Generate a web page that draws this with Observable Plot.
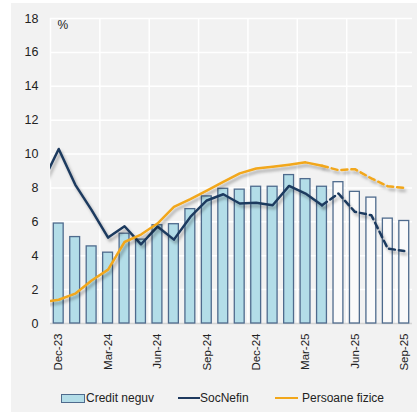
<!DOCTYPE html>
<html><head><meta charset="utf-8">
<script src="https://cdn.jsdelivr.net/npm/d3@7"></script>
<script src="https://cdn.jsdelivr.net/npm/@observablehq/plot@0.6"></script>
<style>
body{margin:0;background:#fff;font-family:"Liberation Sans",Arial,sans-serif;}
#wrap{position:relative;width:417px;height:412px;overflow:hidden;background:#fff;}
#panel{position:absolute;left:11px;top:3px;width:406px;height:409px;background:#f2f2f2;}
#chart{position:absolute;left:0;top:0;}
#chart svg text{font-family:"Liberation Sans",Arial,sans-serif;}
#legend{position:absolute;left:0;top:390px;width:417px;height:18px;font-size:12px;color:#222;}
#legend .it{position:absolute;top:0;height:16px;line-height:16px;white-space:nowrap;}
#legend .sw{position:absolute;}
</style></head><body>
<div id="wrap"><div id="panel"></div><div id="chart"></div>
<div id="legend">
  <div class="sw" style="left:61px;top:4px;width:22px;height:7px;background:#b3dde8;border:1px solid #4f6b8d;"></div>
  <div class="it" style="left:86px;">Credit neguv</div>
  <div class="sw" style="left:178px;top:7px;width:22px;height:2px;background:#1f3a5f;"></div>
  <div class="it" style="left:200px;">SocNefin</div>
  <div class="sw" style="left:275px;top:7px;width:23px;height:2px;background:#f2a71b;"></div>
  <div class="it" style="left:302px;">Persoane fizice</div>
</div>
</div>
<script>
// Months shown on the axis (bars)
const months = ["Dec-23","Jan-24","Feb-24","Mar-24","Apr-24","May-24","Jun-24","Jul-24","Aug-24","Sep-24","Oct-24","Nov-24",
  "Dec-24","Jan-25","Feb-25","Mar-25","Apr-25","May-25","Jun-25","Jul-25","Aug-25","Sep-25"];
const creditNeguv = [5.9,5.1,4.55,4.18,5.3,4.95,5.8,5.86,6.75,7.5,7.95,7.9,8.07,8.07,8.76,8.52,8.07,8.34,7.77,7.43,6.19,6.05];
// Lines start one month earlier (clipped at the left edge)
const lineMonths = ["Nov-23", ...months];
const socNefin = [8.3,10.3,8.2,6.69,5.07,5.74,4.67,5.72,4.95,6.29,7.26,7.63,7.08,7.12,6.98,8.12,7.67,6.98,7.67,6.59,6.39,4.42,4.28];
const persoaneFizice = [1.25,1.4,1.76,2.54,3.18,4.81,5.25,5.9,6.88,7.34,7.84,8.36,8.86,9.15,9.25,9.37,9.51,9.31,9.05,9.11,8.56,8.1,8.0];
const tickLabels = ["Dec-23","Mar-24","Jun-24","Sep-24","Dec-24","Mar-25","Jun-25","Sep-25"];
const yTicks = [0,2,4,6,8,10,12,14,16,18];
const lastActualBar = "Apr-25";   // bars after this are outlined (forecast)
const lastActualLine = "Apr-25";  // lines dashed after this

const lastBarIdx = months.indexOf(lastActualBar);
const lastLineIdx = months.indexOf(lastActualLine);
const bars = months.map((m,i)=>({i, m, v: creditNeguv[i]}));
const lines = lineMonths.map((m,j)=>({i: months.indexOf(m) >= 0 ? months.indexOf(m) : -1, s: socNefin[j], p: persoaneFizice[j]}));
const solid = lines.filter(d=>d.i<=lastLineIdx);
const dashed = lines.filter(d=>d.i>=lastLineIdx);
const tickIdx = tickLabels.map(t=>months.indexOf(t));
const vGrid = tickIdx.map(i=>i-0.5);

const navy = "#1f3a5f", orange = "#f2a71b";
const chart = Plot.plot({
  width: 417, height: 385,
  marginLeft: 50, marginRight: 5, marginTop: 18, marginBottom: 62,
  style: {background: "transparent", fontFamily: "'Liberation Sans', Arial, sans-serif", fontSize: "12px", color: "#222"},
  x: {domain: [-0.5, months.length - 0.5], label: null},
  y: {domain: [0, 18], label: null},
  marks: [
    Plot.ruleY(yTicks.filter(t=>t>0), {stroke: "#fff", strokeWidth: 1.5}),
    Plot.ruleX(vGrid, {stroke: "#fff", strokeWidth: 1.5}),
    Plot.ruleY([0], {stroke: "#d4d4d4", strokeWidth: 1.5}),
    Plot.rectY(bars.filter(d=>d.i<=lastBarIdx), {x1: d=>d.i-0.3, x2: d=>d.i+0.3, y: "v", fill: "#b3dde8", stroke: "#4f6b8d", strokeWidth: 1.3}),
    Plot.rectY(bars.filter(d=>d.i>lastBarIdx), {x1: d=>d.i-0.3, x2: d=>d.i+0.3, y: "v", fill: "#fafafa", stroke: "#4f6b8d", strokeWidth: 1.3}),
    Plot.lineY(solid, {x: "i", y: "s", stroke: navy, strokeWidth: 2.5, clip: true}),
    Plot.lineY(dashed, {x: "i", y: "s", stroke: navy, strokeWidth: 2.5, strokeDasharray: "6,4"}),
    Plot.lineY(solid, {x: "i", y: "p", stroke: orange, strokeWidth: 2.5, clip: true}),
    Plot.lineY(dashed, {x: "i", y: "p", stroke: orange, strokeWidth: 2.5, strokeDasharray: "6,4"}),
    Plot.axisY({ticks: yTicks, tickSize: 0, tickPadding: 12, fontSize: 12.5, label: null}),
    Plot.axisX({ticks: tickIdx, tickFormat: i=>months[i], tickSize: 0, tickPadding: 10, tickRotate: -90, fontSize: 11.5, label: null}),
    Plot.text(["%"], {frameAnchor: "top-left", dx: 7, dy: 2, textAnchor: "start", fontSize: 12})
  ]
});
document.getElementById("chart").appendChild(chart);
const svg = d3.select(chart);
svg.insert("defs", ":first-child").html('<filter id="sh" x="-10%" y="-10%" width="130%" height="140%"><feDropShadow dx="2" dy="3" stdDeviation="1.6" flood-color="#000" flood-opacity="0.3"/></filter>');
svg.selectAll('g[aria-label="line"]').attr("filter", "url(#sh)");
</script>
</body></html>
